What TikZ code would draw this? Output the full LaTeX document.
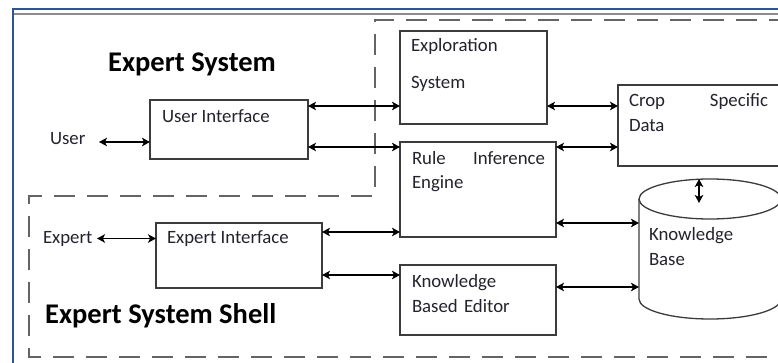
\documentclass[tikz,border=0pt]{standalone}
\usepackage{fontspec}
\setmainfont{Carlito}
\usetikzlibrary{arrows.meta}

\definecolor{frameblue}{RGB}{47,84,150}
\definecolor{framegray}{RGB}{140,140,140}
\definecolor{boxgray}{RGB}{60,60,60}
\definecolor{dashgray}{RGB}{100,100,100}
\definecolor{labelink}{RGB}{35,35,45}

\newcommand\lblfont{\fontsize{18.8}{25}\selectfont}
\newcommand\headfont{\fontsize{28.5}{33}\selectfont\bfseries}

\begin{document}
\begin{tikzpicture}[x=1pt,y=1pt,
  box/.style={draw=boxgray, line width=1.3pt, rectangle, anchor=north west,
    inner sep=0pt, outer sep=0pt},
  boxline/.style={draw=boxgray, line width=1.3pt},
  lbl/.style={anchor=base west, inner sep=0pt, outer sep=0pt, font=\lblfont,
    text=labelink, align=left},
  head/.style={anchor=base west, inner sep=0pt, font=\headfont, text=black},
  dbl/.style={line width=1.9pt, black, {Stealth[length=8pt,width=8.5pt,inset=2pt]}-{Stealth[length=8pt,width=8.5pt,inset=2pt]}},
  dashline/.style={draw=dashgray, line width=1.8pt, dash pattern=on 21pt off 12pt}]

\useasboundingbox (0,0) rectangle (778,362);
\fill[white] (0,0) rectangle (778,362);

% page frame
\draw[frameblue, line width=2pt] (12,352.5) -- (790,352.5);
\draw[framegray, line width=2pt] (14,347.5) -- (790,347.5);
\draw[frameblue, line width=2pt] (13,353.5) -- (13,-5);

% dashed outline of the expert system / shell regions
\draw[dashline] (790,342) -- (375,342) -- (375,166) -- (29,166) -- (29,5) -- (790,5);

% headings
\node[head] (tsys) at (108,290) {Expert System};
\node[head] (tshell) at (45,39) {Expert System Shell};

% component boxes
\node[box, minimum width=158pt, minimum height=59pt] (ui)   at (150,262) {};
\node[box, minimum width=147pt, minimum height=93pt] (ex)   at (400,331) {};
\node[box, minimum width=172pt, minimum height=81pt] (crop) at (618,277) {};
\node[box, minimum width=156pt, minimum height=95pt] (rule) at (400,220) {};
\node[box, minimum width=156pt, minimum height=70pt] (kbe)  at (400,97)  {};
\node[box, minimum width=166pt, minimum height=65pt] (ei)   at (156,139) {};

% knowledge base cylinder
\node[inner sep=0pt, outer sep=0pt, minimum width=142pt, minimum height=100pt] (kb) at (710,113) {};
\draw[boxline] (kb.north west) -- (kb.south west)
  arc[start angle=180, end angle=360, x radius=71pt, y radius=20pt] -- (kb.north east);
\draw[boxline] (kb.north) ellipse[x radius=71pt, y radius=20pt];

% box labels
\node[lbl] (tui)   at ([shift={(12,-22)}]ui.north west) {User Interface};
\node[lbl, text width=130pt] (tex) at ([shift={(11,-21)}]ex.north west) {Exploration\\[12pt]System};
\node[lbl, text width=139pt] (tcrop) at ([shift={(11,-22)}]crop.north west) {Crop\hfill Specific\\Data};
\node[lbl, text width=133pt] (trule) at ([shift={(12,-22)}]rule.north west) {Rule\hfill Inference\\Engine};
\node[lbl, text width=140pt] (tkbe) at ([shift={(12,-22)}]kbe.north west) {Knowledge\\Based Editor};
\node[lbl] (tei)   at ([shift={(11,-20)}]ei.north west) {Expert Interface};
\node[lbl, text width=120pt] (tkb) at (649,122) {Knowledge\\Base};
\node[lbl] (user)  at (50,218) {User};
\node[lbl] (expert) at (43,119) {Expert};

% connector ports
\coordinate (pUser)  at (99,220);
\coordinate (pExp)   at (97,123.5);
\coordinate (pUiEx)  at ([yshift=-6pt]ui.north east);
\coordinate (pUiRu)  at ([yshift=12pt]ui.south east);
\coordinate (pExCr)  at ([yshift=18pt]ex.south east);
\coordinate (pRuCr)  at ([yshift=-5pt]rule.north east);
\coordinate (pEiRu)  at ([yshift=-9pt]ei.north east);
\coordinate (pEiKe)  at ([yshift=13pt]ei.south east);
\coordinate (pRuKb)  at ([yshift=14pt]rule.south east);
\coordinate (pKeKb)  at ([yshift=-22pt]kbe.north east);
\coordinate (pKbTop) at ([shift={(-11,20)}]kb.north);
\coordinate (pKbIn)  at ([shift={(-11,-4)}]kb.north);

% connectors
\draw[dbl] (pUser) -- (pUser -| ui.west);
\draw[dbl] (pExp) -- (pExp -| ei.west);
\draw[dbl] (pUiEx) -- (pUiEx -| ex.west);
\draw[dbl] (pUiRu) -- (pUiRu -| rule.west);
\draw[dbl] (pExCr) -- (pExCr -| crop.west);
\draw[dbl] (pRuCr) -- (pRuCr -| crop.west);
\draw[dbl] (pEiRu) -- (pEiRu -| rule.west);
\draw[dbl] (pEiKe) -- (pEiKe -| kbe.west);
\draw[dbl] (pRuKb) -- (pRuKb -| kb.west);
\draw[dbl] (pKeKb) -- (pKeKb -| kb.west);
\draw[dbl] (pKbTop) -- (pKbIn);
\end{tikzpicture}
\end{document}
